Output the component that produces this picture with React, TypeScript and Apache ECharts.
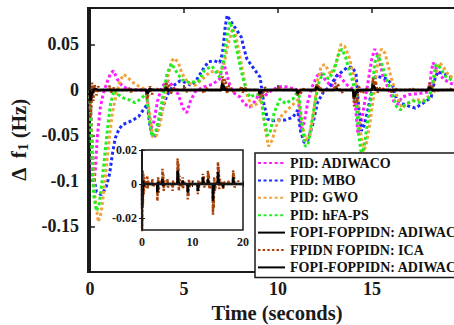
import React, { useEffect, useRef } from "react";
import * as echarts from "echarts";

const xTicks = [0, 5, 10, 15, 20];
const xLabels = [0, 5, 10, 15];
const insetXTicks = [0, 10, 20];
const insetYTicks = [-0.02, 0, 0.02];

const legendNames = [
  "PID: ADIWACO",
  "PID: MBO",
  "PID: GWO",
  "PID: hFA-PS",
  "FOPI-FOPPIDN: ADIWACO",
  "FPIDN FOPIDN: ICA",
  "FOPI-FOPPIDN: ADIWACO ",
];

const pidAdiwaco: [number, number][] = [
  [0, 0], [0.05, -0.04], [0.12, -0.09], [0.2, -0.105], [0.3, -0.085], [0.4, -0.05], [0.55, -0.02], [0.7, -0.005],
  [0.9, 0.008], [1.1, 0.018], [1.25, 0.021], [1.45, 0.012], [1.7, 0.005], [2.0, 0.001], [2.5, 0], [3.0, 0],
  [3.1, -0.02], [3.25, -0.042], [3.4, -0.035], [3.6, -0.012], [3.8, 0.002], [4.0, 0.008], [4.2, 0.01], [4.4, 0.004],
  [4.7, -0.005], [4.95, -0.02], [5.15, -0.025], [5.35, -0.012], [5.6, -0.002], [6.0, 0.003], [6.5, 0.006], [6.9, 0.012],
  [7.1, 0.03], [7.25, 0.02], [7.45, 0.004], [7.7, -0.004], [8.0, -0.008], [8.2, -0.015], [8.5, -0.019], [8.8, -0.012],
  [9.05, -0.002], [9.2, -0.008], [9.45, -0.004], [9.7, 0.0], [10.0, 0.003], [10.3, 0.004], [10.7, 0.002], [11.05, 0.0],
  [11.15, -0.025], [11.25, -0.045], [11.4, -0.035], [11.6, -0.012], [11.85, 0.005], [12.1, 0.016], [12.3, 0.018], [12.55, 0.01],
  [12.85, 0.004], [13.05, 0.012], [13.2, 0.018], [13.4, 0.012], [13.7, 0.005], [14.05, 0.0], [14.15, -0.025], [14.25, -0.048],
  [14.4, -0.04], [14.6, -0.015], [14.8, 0.01], [15.0, 0.035], [15.15, 0.045], [15.35, 0.035], [15.6, 0.015], [15.9, 0.0],
  [16.15, -0.012], [16.35, -0.016], [16.6, -0.008], [17.0, -0.005], [17.5, -0.004], [18.05, -0.002], [18.15, 0.02], [18.25, 0.03],
  [18.45, 0.022], [18.8, 0.012], [19.2, 0.007], [19.6, 0.005], [20, 0.004],
];

const pidMbo: [number, number][] = [
  [0, 0], [0.08, -0.04], [0.2, -0.095], [0.35, -0.112], [0.6, -0.115], [0.85, -0.108], [1.05, -0.092], [1.2, -0.07],
  [1.35, -0.053], [1.55, -0.043], [1.75, -0.038], [2.0, -0.036], [2.3, -0.033], [2.6, -0.029], [2.9, -0.02], [3.05, -0.016],
  [3.2, -0.04], [3.35, -0.052], [3.5, -0.05], [3.7, -0.035], [3.9, -0.018], [4.1, -0.006], [4.4, 0.004], [4.8, 0.01],
  [5.1, 0.008], [5.4, 0.005], [5.7, 0.012], [6.0, 0.022], [6.3, 0.031], [6.6, 0.032], [6.9, 0.03], [7.05, 0.04],
  [7.2, 0.07], [7.3, 0.082], [7.5, 0.075], [7.8, 0.066], [8.05, 0.058], [8.2, 0.045], [8.35, 0.034], [8.7, 0.024],
  [9.05, 0.014], [9.25, -0.015], [9.45, -0.032], [9.7, -0.034], [10.0, -0.033], [10.4, -0.033], [10.8, -0.03], [11.05, -0.022],
  [11.2, -0.045], [11.4, -0.058], [11.6, -0.055], [11.85, -0.038], [12.1, -0.014], [12.4, -0.003], [12.8, 0.005], [13.1, 0.015],
  [13.4, 0.02], [13.7, 0.025], [13.95, 0.025], [14.15, 0.018], [14.3, -0.02], [14.45, -0.045], [14.6, -0.038], [14.8, -0.02],
  [15.0, 0.0], [15.2, 0.015], [15.5, 0.014], [15.8, 0.012], [16.1, 0.005], [16.3, -0.01], [16.6, -0.015], [17.0, -0.018],
  [17.3, -0.02], [17.6, -0.016], [17.9, -0.012], [18.15, -0.008], [18.35, 0.012], [18.5, 0.02], [18.8, 0.018], [19.2, 0.014],
  [19.6, 0.01], [20, 0.008],
];

const pidGwo: [number, number][] = [
  [0, 0], [0.1, -0.05], [0.25, -0.115], [0.45, -0.145], [0.6, -0.135], [0.75, -0.11], [0.9, -0.08], [1.05, -0.05],
  [1.2, -0.025], [1.4, -0.005], [1.6, 0.01], [1.8, 0.017], [2.0, 0.014], [2.3, 0.008], [2.7, 0.003], [3.0, 0.0],
  [3.2, -0.03], [3.35, -0.052], [3.55, -0.05], [3.75, -0.035], [3.95, -0.012], [4.15, 0.015], [4.35, 0.032], [4.5, 0.035],
  [4.7, 0.03], [4.9, 0.018], [5.2, 0.008], [5.6, 0.005], [6.0, 0.012], [6.4, 0.02], [6.8, 0.02], [7.1, 0.025],
  [7.35, 0.05], [7.6, 0.068], [7.75, 0.06], [7.95, 0.04], [8.15, 0.018], [8.35, -0.005], [8.6, -0.018], [8.9, -0.015],
  [9.1, -0.01], [9.3, -0.04], [9.5, -0.062], [9.7, -0.055], [9.9, -0.04], [10.2, -0.028], [10.5, -0.022], [10.9, -0.014],
  [11.1, -0.01], [11.3, -0.04], [11.5, -0.055], [11.7, -0.05], [11.9, -0.025], [12.1, 0.01], [12.3, 0.026], [12.5, 0.028],
  [12.8, 0.017], [13.1, 0.03], [13.35, 0.05], [13.55, 0.048], [13.8, 0.035], [14.0, 0.018], [14.2, 0.0], [14.35, -0.04],
  [14.55, -0.068], [14.7, -0.06], [14.9, -0.035], [15.1, -0.005], [15.3, 0.03], [15.5, 0.045], [15.7, 0.04], [16.0, 0.015],
  [16.3, -0.005], [16.6, -0.02], [16.9, -0.015], [17.3, -0.01], [17.7, -0.012], [18.1, -0.006], [18.35, 0.015], [18.6, 0.03],
  [18.8, 0.025], [19.1, 0.015], [19.5, 0.012], [20, 0.01],
];

const pidHfaps: [number, number][] = [
  [0, 0], [0.08, -0.06], [0.2, -0.115], [0.35, -0.133], [0.5, -0.125], [0.65, -0.1], [0.8, -0.07], [0.95, -0.04],
  [1.1, -0.015], [1.3, 0.0], [1.5, -0.005], [1.8, -0.009], [2.1, -0.011], [2.4, -0.014], [2.7, -0.01], [3.0, -0.004],
  [3.15, -0.03], [3.3, -0.051], [3.5, -0.046], [3.7, -0.028], [3.9, -0.005], [4.1, 0.018], [4.35, 0.029], [4.6, 0.02],
  [4.9, 0.011], [5.3, 0.008], [5.8, 0.01], [6.1, 0.022], [6.5, 0.026], [6.9, 0.014], [7.1, 0.03], [7.3, 0.06],
  [7.45, 0.075], [7.6, 0.065], [7.8, 0.045], [8.0, 0.025], [8.2, 0.008], [8.5, -0.008], [8.8, -0.005], [9.1, -0.005],
  [9.25, -0.03], [9.45, -0.05], [9.6, -0.045], [9.8, -0.025], [10.1, -0.01], [10.4, -0.015], [10.8, -0.01], [11.1, 0.0],
  [11.25, -0.035], [11.45, -0.062], [11.6, -0.06], [11.8, -0.035], [12.0, -0.01], [12.2, 0.01], [12.4, 0.018], [12.7, 0.012],
  [13.0, 0.022], [13.2, 0.038], [13.4, 0.045], [13.6, 0.036], [13.8, 0.02], [14.0, 0.008], [14.15, -0.01], [14.3, -0.05],
  [14.45, -0.072], [14.6, -0.06], [14.8, -0.03], [15.0, 0.0], [15.15, 0.03], [15.3, 0.038], [15.5, 0.03], [15.8, 0.01],
  [16.1, -0.005], [16.3, -0.018], [16.5, -0.022], [16.8, -0.015], [17.2, -0.012], [17.6, -0.014], [18.0, -0.01], [18.2, 0.005],
  [18.4, 0.028], [18.6, 0.025], [18.9, 0.015], [19.3, 0.01], [19.7, 0.008], [20, 0.006],
];

const fopiAdiwaco: [number, number][] = [
  [0, 0], [0.03, -0.014], [0.1, -0.006], [0.2, 0.002], [0.35, -0.001], [0.6, 0],
  [3.0, 0], [3.04, -0.005], [3.15, 0.001], [3.4, 0],
  [4.0, 0], [4.04, 0.003], [4.15, -0.001], [4.4, 0],
  [7.0, 0], [7.04, 0.008], [7.15, 0.002], [7.4, 0],
  [8.0, 0], [8.04, 0.002], [8.2, 0],
  [9.0, 0], [9.04, -0.005], [9.15, -0.001], [9.4, 0],
  [11.0, 0], [11.04, -0.004], [11.2, 0],
  [12.0, 0], [12.04, 0.004], [12.2, 0],
  [13.0, 0], [13.04, 0.003], [13.2, 0],
  [14.0, 0], [14.04, -0.01], [14.15, -0.003], [14.4, 0],
  [15.0, 0], [15.04, 0.007], [15.15, 0.002], [15.4, 0],
  [16.0, 0], [16.04, -0.002], [16.2, 0],
  [18.0, 0], [18.04, 0.004], [18.2, 0], [20, 0],
];

const fpidnIca: [number, number][] = [
  [0, 0], [0.03, -0.03], [0.08, -0.02], [0.12, 0.008], [0.18, -0.012], [0.25, 0.006], [0.35, -0.006], [0.45, 0.004], [0.6, -0.002], [0.8, 0.001],
  [1.0, 0], [1.05, 0.005], [1.12, -0.003], [1.25, 0.002], [1.5, 0],
  [2.0, 0], [2.05, 0.003], [2.15, -0.002], [2.4, 0],
  [3.0, 0], [3.05, -0.01], [3.12, -0.004], [3.2, 0.004], [3.3, -0.005], [3.45, 0.002], [3.7, 0],
  [4.0, 0], [4.05, 0.009], [4.12, 0.002], [4.2, 0.006], [4.3, -0.004], [4.45, 0.002], [4.7, 0],
  [5.0, 0], [5.05, 0.003], [5.15, -0.002], [5.4, 0],
  [6.0, 0], [6.05, -0.004], [6.15, 0.002], [6.4, 0],
  [7.0, 0], [7.05, 0.015], [7.12, 0.006], [7.2, 0.012], [7.3, -0.004], [7.4, 0.005], [7.55, -0.002], [7.8, 0],
  [8.0, 0], [8.05, 0.004], [8.12, -0.003], [8.25, 0.002], [8.5, 0],
  [9.0, 0], [9.05, -0.009], [9.12, -0.003], [9.2, -0.007], [9.3, 0.003], [9.45, -0.002], [9.7, 0],
  [10.0, 0], [10.05, 0.002], [10.3, 0],
  [11.0, 0], [11.05, -0.006], [11.12, 0.002], [11.2, -0.004], [11.35, 0.001], [11.6, 0],
  [12.0, 0], [12.05, 0.006], [12.12, 0.002], [12.2, 0.005], [12.35, -0.002], [12.6, 0],
  [13.0, 0], [13.05, 0.008], [13.12, 0.003], [13.2, 0.006], [13.35, -0.003], [13.6, 0],
  [14.0, 0], [14.05, -0.018], [14.12, -0.008], [14.2, -0.014], [14.3, 0.004], [14.45, -0.004], [14.7, 0.001], [14.9, 0],
  [15.0, 0], [15.05, 0.013], [15.12, 0.005], [15.2, 0.01], [15.3, -0.003], [15.45, 0.003], [15.7, 0],
  [16.0, 0], [16.05, -0.003], [16.15, 0.002], [16.4, 0],
  [17.0, 0], [17.05, 0.002], [17.3, 0],
  [18.0, 0], [18.05, 0.008], [18.12, 0.003], [18.2, 0.006], [18.35, -0.002], [18.6, 0],
  [19.0, 0], [19.05, 0.002], [19.3, 0], [20, 0],
];

const fopiAdiwaco2: [number, number][] = [
  [0, 0], [0.03, -0.012], [0.1, -0.004], [0.25, 0.001], [0.5, 0],
  [3.0, 0], [3.04, -0.004], [3.2, 0],
  [4.0, 0], [4.04, 0.002], [4.2, 0],
  [7.0, 0], [7.04, 0.006], [7.2, 0],
  [9.0, 0], [9.04, -0.004], [9.2, 0],
  [11.0, 0], [11.04, -0.003], [11.2, 0],
  [12.0, 0], [12.04, 0.003], [12.2, 0],
  [14.0, 0], [14.04, -0.008], [14.2, 0],
  [15.0, 0], [15.04, 0.005], [15.2, 0],
  [18.0, 0], [18.04, 0.003], [18.2, 0], [20, 0],
];

const FONT = "'Liberation Serif', 'Times New Roman', serif";
const INK = "#1a1a1a";

const dotted = (color: string, width = 3) => ({
  color,
  width,
  type: [width, width * 0.85] as number[],
  cap: "butt",
});

function mainSeries(name: string, data: [number, number][], lineStyle: any, z = 2) {
  return {
    name,
    type: "line",
    xAxisIndex: 0,
    yAxisIndex: 0,
    data,
    symbol: "none",
    smooth: false,
    lineStyle,
    itemStyle: { color: lineStyle.color },
    z,
  };
}

function insetSeries(name: string, data: [number, number][], lineStyle: any) {
  return {
    name,
    type: "line",
    xAxisIndex: 2,
    yAxisIndex: 1,
    data,
    symbol: "none",
    lineStyle,
    itemStyle: { color: lineStyle.color },
    z: 5,
  };
}

const labelStyle = (size: number) => ({
  fontFamily: FONT,
  fontWeight: "bold",
  fontSize: size,
  color: INK,
});

export default function App() {
  const ref = useRef<HTMLDivElement>(null);
  useEffect(() => {
    if (!ref.current) return;
    const chart = echarts.init(ref.current, undefined, { renderer: "svg" });
    const option: any = {
      animation: false,
      backgroundColor: "#ffffff",
      grid: [
        { left: 88, top: 8, width: 378, height: 264, outerBoundsMode: "none", containLabel: false, show: true, borderColor: INK, borderWidth: 2, backgroundColor: "transparent" },
        { left: 142, top: 150, width: 101, height: 80, outerBoundsMode: "none", containLabel: false, show: false },
      ],
      xAxis: [
        {
          type: "value", gridIndex: 0, min: -0.1, max: 20,
          axisLine: { lineStyle: { color: INK, width: 2 } },
          axisTick: { inside: true, length: 5, customValues: xTicks, lineStyle: { color: INK, width: 1.5 } },
          axisLabel: { customValues: xLabels, margin: 8, ...labelStyle(18) },
          splitLine: { show: false },
          name: "Time (seconds)", nameLocation: "middle", nameGap: 29,
          nameTextStyle: labelStyle(20.5),
        },
        {
          type: "value", gridIndex: 0, min: -0.1, max: 20, position: "top",
          axisLine: { lineStyle: { color: INK, width: 2 } },
          axisTick: { inside: true, length: 5, customValues: xTicks, lineStyle: { color: INK, width: 1.5 } },
          axisLabel: { show: false },
          splitLine: { show: false },
        },
        {
          type: "value", gridIndex: 1, min: 0, max: 20, z: 6,
          axisLine: { lineStyle: { color: INK, width: 1.5 } },
          axisTick: { inside: true, length: 3, customValues: insetXTicks, lineStyle: { color: INK } },
          axisLabel: { customValues: insetXTicks, margin: 6, ...labelStyle(12) },
          splitLine: { show: false },
        },
        {
          type: "value", gridIndex: 1, min: 0, max: 20, position: "top", z: 6,
          axisLine: { lineStyle: { color: INK, width: 1.5 } },
          axisTick: { inside: true, length: 3, customValues: insetXTicks, lineStyle: { color: INK } },
          axisLabel: { show: false },
          splitLine: { show: false },
        },
      ],
      yAxis: [
        {
          type: "value", gridIndex: 0, min: -0.2, max: 0.09, interval: 0.05,
          axisLine: { show: true, lineStyle: { color: INK, width: 2 } },
          axisTick: { show: true, inside: true, length: 5, lineStyle: { color: INK, width: 1.5 } },
          axisLabel: {
            margin: 9, ...labelStyle(18),
            formatter: (v: number) => {
              const k = Math.round(v / 0.05);
              if (Math.abs(v - k * 0.05) > 1e-6 || k === -4) return "";
              return String(+v.toFixed(3));
            },
          },
          splitLine: { show: false },
          name: "Δ  f{s|1} (Hz)", nameLocation: "middle", nameGap: 55,
          nameTextStyle: { ...labelStyle(21), rich: { s: { ...labelStyle(14), padding: [10, 0, 0, 0] } } },
        },
        {
          type: "value", gridIndex: 1, min: -0.027, max: 0.02, z: 6,
          axisLine: { show: true, lineStyle: { color: INK, width: 1.5 } },
          axisTick: { show: true, inside: true, length: 3, customValues: insetYTicks, lineStyle: { color: INK } },
          axisLabel: { customValues: insetYTicks, margin: 5, ...labelStyle(12), formatter: (v: number) => String(+v.toFixed(3)) },
          splitLine: { show: false },
        },
        {
          type: "value", gridIndex: 1, min: -0.027, max: 0.02, position: "right", z: 6,
          axisLine: { show: true, lineStyle: { color: INK, width: 1.5 } },
          axisTick: { show: true, inside: true, length: 3, customValues: insetYTicks, lineStyle: { color: INK } },
          axisLabel: { show: false },
          splitLine: { show: false },
        },
      ],
      legend: {
        data: legendNames,
        orient: "vertical",
        left: 255,
        top: 153,
        itemWidth: 27,
        itemHeight: 13,
        itemGap: 3.4,
        padding: [3, 40, 3, 2],
        borderColor: INK,
        borderWidth: 1.5,
        backgroundColor: "#ffffff",
        itemStyle: { color: "transparent", borderColor: "transparent", borderWidth: 0, opacity: 0 },
        textStyle: { ...labelStyle(14), color: "#111" },
        selectedMode: false,
        z: 8,
      },
      graphic: [
        {
          type: "rect",
          z: 4,
          shape: { x: 142, y: 150, width: 101, height: 80 },
          style: { fill: "#ffffff", stroke: INK, lineWidth: 1.5 },
        },
      ],
      series: [
        mainSeries(legendNames[0], pidAdiwaco, dotted("#ff1cff")),
        mainSeries(legendNames[1], pidMbo, dotted("#1c2cff")),
        mainSeries(legendNames[2], pidGwo, dotted("#f2a33a")),
        mainSeries(legendNames[3], pidHfaps, dotted("#22ee22")),
        mainSeries(legendNames[4], fopiAdiwaco, { color: "#000000", width: 2.5, type: "solid" }, 3),
        mainSeries(legendNames[5], fpidnIca, dotted("#a8420c", 2.5), 3),
        mainSeries(legendNames[6], fopiAdiwaco2, { color: "#000000", width: 2.5, type: "solid" }, 3),
        insetSeries("inset ICA", fpidnIca, dotted("#a8420c", 2.5)),
        insetSeries("inset ADIWACO", fopiAdiwaco, { color: "#000000", width: 2.5, type: "solid" }),
      ],
    };
    chart.setOption(option);
    return () => chart.dispose();
  }, []);
  return <div ref={ref} style={{ position: "fixed", left: 0, top: 0, width: 454, height: 325 }} />;
}
